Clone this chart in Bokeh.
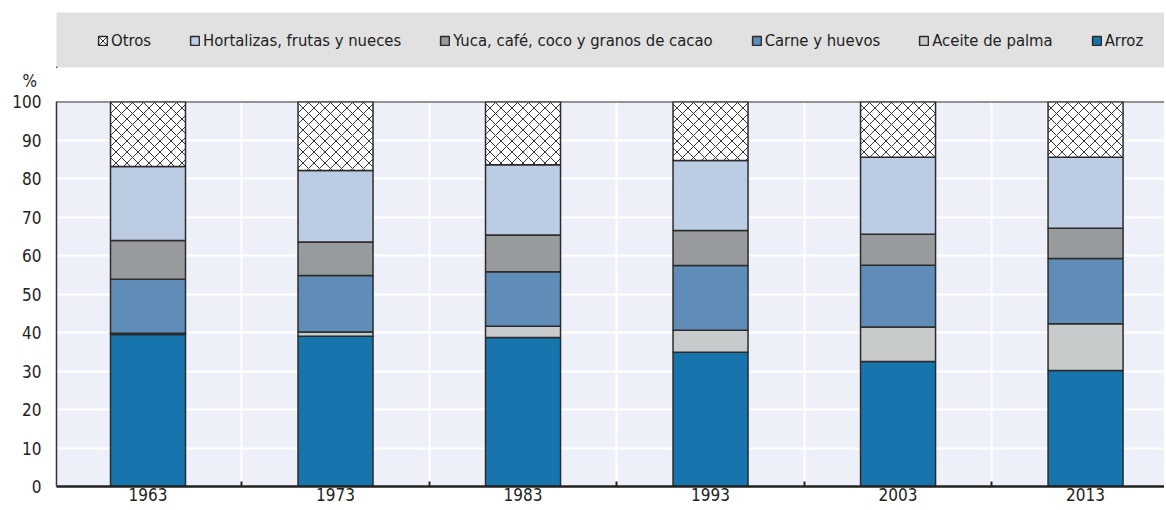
from bokeh.plotting import figure
from bokeh.layouts import column
from bokeh.models import ColumnDataSource, FixedTicker, Legend, LegendItem, Span, Title
from bokeh.embed import file_html
from bokeh.resources import INLINE

# ---- data ----
years = ["1963", "1973", "1983", "1993", "2003", "2013"]
arroz = [39.5, 39.0, 38.7, 34.9, 32.5, 30.1]
aceite = [0.3, 1.1, 2.9, 5.7, 8.9, 12.2]
carne = [14.0, 14.7, 14.2, 16.8, 16.1, 16.9]
yuca = [10.1, 8.7, 9.5, 9.1, 8.0, 7.9]
hortalizas = [19.2, 18.6, 18.3, 18.2, 20.0, 18.4]
otros = [16.9, 17.9, 16.4, 15.3, 14.5, 14.5]

series_names = ["Arroz", "Aceite de palma", "Carne y huevos",
                "Yuca, café, coco y granos de cacao",
                "Hortalizas, frutas y nueces", "Otros"]
series_values = [arroz, aceite, carne, yuca, hortalizas, otros]
series_colors = ["#1874ad", "#c8cbcc", "#5f8db8", "#989b9e", "#bccde3", "#ffffff"]
legend_order = ["Otros", "Hortalizas, frutas y nueces",
                "Yuca, café, coco y granos de cacao", "Carne y huevos",
                "Aceite de palma", "Arroz"]

FONT = "DejaVu Sans Condensed"
TXT = "#222222"
HATCH = dict(hatch_pattern="diagonal_cross", hatch_scale=11,
             hatch_weight=1, hatch_color="#333333")


def style_kw(name):
    kw = dict(fill_color=series_colors[series_names.index(name)],
              line_color="#2b2b2b", line_width=1.5)
    if name == "Otros":
        kw.update(HATCH)
    return kw


x = list(range(len(years)))
data = {"x": x}
cum = [0.0] * len(years)
for i, vals in enumerate(series_values):
    data[f"b{i}"] = list(cum)
    cum = [c + v for c, v in zip(cum, vals)]
    data[f"t{i}"] = list(cum)
src = ColumnDataSource(data)

# ---------- legend strip (with the "%" unit label below it) ----------
leg = figure(width=1164, height=91, x_range=(0, 1), y_range=(0, 1),
             output_backend="svg", toolbar_location=None, title=None,
             min_border_left=56, min_border_right=0, min_border_top=12,
             min_border_bottom=22)
leg.background_fill_color = "#e1e1e1"
leg.border_fill_color = "white"
leg.outline_line_color = None
leg.axis.visible = False
leg.grid.visible = False
offscreen = ColumnDataSource(dict(x=[-10], b=[-10], t=[-9]))
leg_items = []
for name in legend_order:
    r = leg.vbar(x="x", bottom="b", top="t", width=0.4, source=offscreen,
                 **style_kw(name))
    leg_items.append(LegendItem(label=name, renderers=[r]))
legend = Legend(items=leg_items, orientation="horizontal", location=(41, 17),
                background_fill_alpha=0, border_line_color=None,
                label_text_font=FONT, label_text_font_size="16.5px",
                label_text_color=TXT, glyph_width=11, glyph_height=11,
                label_standoff=3, spacing=38, padding=0, margin=0)
leg.add_layout(legend, "center")
leg.add_layout(Title(text="%", align="left", offset=-34, text_font=FONT,
                     text_font_size="17px", text_font_style="normal",
                     text_color=TXT, standoff=2), "below")

# ---------- main chart ----------
p = figure(width=1164, height=412, x_range=(-0.488, 5.421), y_range=(0, 100),
           output_backend="svg", toolbar_location=None, title=None,
           min_border_left=0, min_border_right=0, min_border_top=10,
           min_border_bottom=0)
p.background_fill_color = "#edf0f8"
p.border_fill_color = "white"
p.outline_line_color = None

for i, name in enumerate(series_names):
    p.vbar(x="x", bottom=f"b{i}", top=f"t{i}", width=0.4, source=src,
           **style_kw(name))

p.xaxis.ticker = FixedTicker(ticks=x, minor_ticks=[i + 0.5 for i in x])
p.xaxis.major_label_overrides = {i: y for i, y in zip(x, years)}
p.xaxis.major_tick_in = 0
p.xaxis.major_tick_out = 0
p.xaxis.minor_tick_in = 5
p.xaxis.minor_tick_out = 0
p.xaxis.minor_tick_line_color = "#222222"
p.xaxis.minor_tick_line_width = 2
p.xaxis.axis_line_color = "#222222"
p.xaxis.axis_line_width = 2.5
p.xaxis.major_label_standoff = 1

p.yaxis.ticker = FixedTicker(ticks=list(range(0, 101, 10)))
p.yaxis.major_tick_in = 0
p.yaxis.major_tick_out = 0
p.yaxis.minor_tick_line_color = None
p.yaxis.axis_line_color = "#333333"
p.yaxis.axis_line_width = 1.5
p.yaxis.major_label_standoff = 15

for ax in (p.xaxis, p.yaxis):
    ax.major_label_text_font = FONT
    ax.major_label_text_font_size = "17px"
    ax.major_label_text_color = TXT

p.ygrid.grid_line_color = "white"
p.ygrid.grid_line_width = 2
p.xgrid.grid_line_color = None
p.xgrid.minor_grid_line_color = "white"
p.xgrid.minor_grid_line_width = 2

p.add_layout(Span(location=100, dimension="width", line_color="#333333",
                  line_width=2))

layout = column(leg, p, spacing=0)
open("out.html", "w").write(file_html(layout, INLINE))
